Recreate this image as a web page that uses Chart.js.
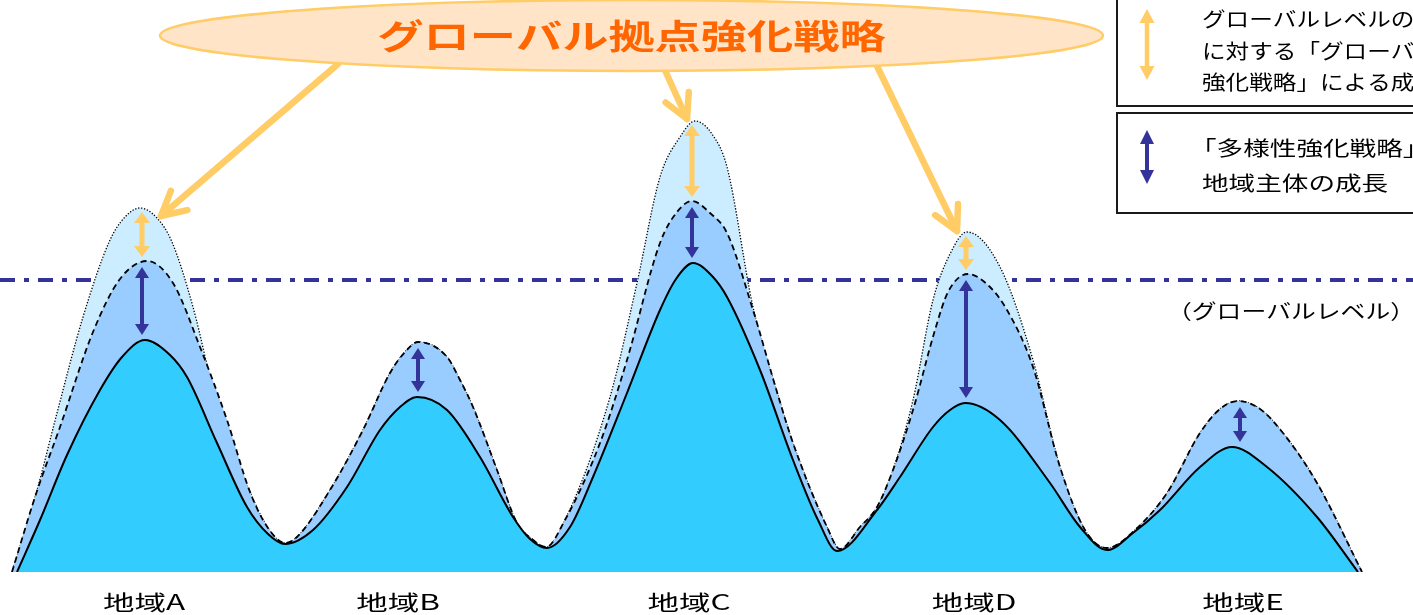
<!DOCTYPE html>
<html lang="ja">
<head>
<meta charset="utf-8">
<title>グローバル拠点強化戦略</title>
<script src="https://cdn.jsdelivr.net/npm/chart.js@4/dist/chart.umd.min.js"></script>
<style>
  html, body { margin: 0; padding: 0; background: #ffffff; }
  #wrap { width: 1413px; height: 615px; position: relative; }
  canvas { display: block; }
</style>
</head>
<body>
<div id="wrap"><canvas id="chart" width="1413" height="615"></canvas></div>
<script>
// ---- data -------------------------------------------------------------
const regions = ['地域A', '地域B', '地域C', '地域D', '地域E'];
const regionPeakX = [142, 418, 692, 966, 1240];

// current strength of the regions (solid outline)
const currentX = [17, 40, 67, 100, 122, 145, 170, 187, 217, 247,
  268, 285, 313, 347, 380, 400, 417, 447, 480, 513,
  530, 547, 570, 593, 627, 660, 676, 693, 713, 727,
  760, 793, 818, 837, 877, 900, 933, 950, 965, 1000,
  1050, 1080, 1107, 1133, 1160, 1200, 1232, 1267, 1317, 1358];
const currentH = [0, 52, 117, 182, 215, 232, 217, 195, 129, 65,
  38, 28, 42, 85, 142, 165, 175, 162, 115, 55,
  33, 24, 45, 95, 179, 262, 293, 309, 295, 275,
  202, 112, 52, 21, 62, 95, 145, 162, 169, 152,
  89, 45, 22, 39, 62, 105, 125, 105, 55, 0];

// growth through the diversity strategy (dashed outline)
const diversityX = [12, 36, 60, 93, 120, 147, 173, 200, 227, 250,
  268, 285, 297, 330, 363, 390, 405, 418, 447, 460,
  473, 497, 517, 532, 546, 565, 600, 627, 660, 677,
  692, 710, 727, 753, 777, 793, 827, 840, 860, 877,
  893, 913, 935, 948, 968, 990, 1007, 1033, 1060, 1085,
  1107, 1135, 1167, 1200, 1220, 1238, 1260, 1283, 1317, 1362];
const diversityH = [0, 78, 145, 240, 293, 311, 289, 225, 152, 80,
  44, 29, 35, 82, 142, 199, 220, 230, 215, 192,
  165, 102, 49, 33, 25, 52, 129, 212, 329, 360,
  371, 359, 339, 262, 180, 129, 45, 23, 45, 65,
  102, 162, 242, 280, 298, 285, 262, 205, 105, 42,
  24, 42, 79, 139, 163, 171, 163, 139, 89, 0];

// growth through the global-hub strategy (dotted outline)
const globalX = [12, 36, 57, 83, 110, 125, 140, 157, 172, 193,
  220, 250, 268, 285, 297, 330, 363, 390, 405, 418,
  447, 460, 473, 497, 517, 532, 546, 565, 610, 637,
  660, 680, 695, 712, 727, 753, 777, 793, 827, 840,
  860, 877, 893, 913, 933, 950, 967, 1000, 1033, 1060,
  1085, 1107, 1135, 1167, 1200, 1220, 1238, 1260, 1283, 1317, 1362];
const globalH = [0, 78, 159, 255, 332, 355, 364, 354, 330, 265,
  155, 80, 44, 29, 35, 82, 142, 199, 220, 230,
  215, 192, 165, 102, 49, 33, 25, 52, 175, 289,
  395, 435, 451, 438, 405, 265, 180, 129, 45, 23,
  45, 65, 102, 172, 272, 318, 340, 305, 212, 105,
  42, 24, 42, 79, 139, 163, 171, 163, 139, 89, 0];

// global level reference
const globalLevel = 292;

// ---- helpers ----------------------------------------------------------
const toPoints = (xs, hs) => xs.map((x, i) => ({ x: x, y: hs[i] }));

function peakNear(xs, hs, x0) {
  let best = -1;
  for (let i = 0; i < xs.length; i++) {
    if (Math.abs(xs[i] - x0) <= 40 && (best < 0 || hs[i] > hs[best])) best = i;
  }
  return hs[best];
}

const CJK = "'Noto Sans CJK JP', 'Noto Sans', sans-serif";

function stretchedText(ctx, text, x, y, size, weight, color, sx, align) {
  ctx.save();
  ctx.font = weight + ' ' + size + 'px ' + CJK;
  ctx.fillStyle = color;
  ctx.textBaseline = 'middle';
  ctx.textAlign = align || 'left';
  ctx.translate(x, y);
  ctx.scale(sx, 1);
  ctx.fillText(text, 0, 0);
  ctx.restore();
}

function doubleArrow(ctx, x, yTop, yBot, color, shaftW, headL, headW) {
  ctx.save();
  ctx.strokeStyle = color;
  ctx.fillStyle = color;
  ctx.lineWidth = shaftW;
  ctx.beginPath();
  ctx.moveTo(x, yTop + headL - 1);
  ctx.lineTo(x, yBot - headL + 1);
  ctx.stroke();
  ctx.beginPath();
  ctx.moveTo(x, yTop);
  ctx.lineTo(x - headW, yTop + headL);
  ctx.lineTo(x + headW, yTop + headL);
  ctx.closePath();
  ctx.fill();
  ctx.beginPath();
  ctx.moveTo(x, yBot);
  ctx.lineTo(x - headW, yBot - headL);
  ctx.lineTo(x + headW, yBot - headL);
  ctx.closePath();
  ctx.fill();
  ctx.restore();
}

function pointer(ctx, x0, y0, x1, y1) {
  const ang = Math.atan2(y0 - y1, x0 - x1);
  const spread = 28 * Math.PI / 180;
  const len = 27;
  ctx.save();
  ctx.strokeStyle = '#FFCC66';
  ctx.lineWidth = 6.5;
  ctx.lineCap = 'round';
  ctx.lineJoin = 'round';
  ctx.beginPath();
  ctx.moveTo(x0, y0);
  ctx.lineTo(x1, y1);
  ctx.stroke();
  ctx.beginPath();
  ctx.moveTo(x1 + len * Math.cos(ang - spread), y1 + len * Math.sin(ang - spread));
  ctx.lineTo(x1, y1);
  ctx.lineTo(x1 + len * Math.cos(ang + spread), y1 + len * Math.sin(ang + spread));
  ctx.stroke();
  ctx.restore();
}

// ---- annotations drawn on top of the mountains ----------------------------
const layout = {
  labelX: [144, 398, 689, 974, 1243],
  labelY: 602,
  ellipse: { cx: 631.5, cy: 35.5, rx: 471.5, ry: 35.5 },
  pointers: [
    [338, 64, 161, 216],
    [664, 68, 687, 119],
    [876, 64, 957, 231]
  ]
};

const annotationPlugin = {
  id: 'strategyAnnotations',
  afterDatasetsDraw(chart) {
    const ctx = chart.ctx;
    const xs = chart.scales.x, ys = chart.scales.y;

    // growth arrows at each region's peak
    regions.forEach((r, i) => {
      const px = xs.getPixelForValue(regionPeakX[i]);
      const cur = peakNear(currentX, currentH, regionPeakX[i]);
      const div = peakNear(diversityX, diversityH, regionPeakX[i]);
      const glo = peakNear(globalX, globalH, regionPeakX[i]);
      if (glo > div + 5) {
        doubleArrow(ctx, px, ys.getPixelForValue(glo) + 4, ys.getPixelForValue(div) - 4, '#FFCC66', 5, 11, 8);
      }
      doubleArrow(ctx, px, ys.getPixelForValue(div) + 6, ys.getPixelForValue(cur) - 5, '#333399', 4, 11, 7);
    });

    // pointers from the strategy bubble
    layout.pointers.forEach(p => pointer(ctx, p[0], p[1], p[2], p[3]));

    // strategy bubble
    const e = layout.ellipse;
    ctx.save();
    ctx.beginPath();
    ctx.ellipse(e.cx, e.cy, e.rx, e.ry, 0, 0, Math.PI * 2);
    ctx.fillStyle = '#FFE4C8';
    ctx.fill();
    ctx.lineWidth = 2.5;
    ctx.strokeStyle = '#FFCC66';
    ctx.stroke();
    ctx.restore();
    stretchedText(ctx, 'グローバル拠点強化戦略', e.cx, e.cy + 1, 34, 'bold', '#FF6600', 1.36, 'center');

    // legend boxes
    ctx.save();
    ctx.fillStyle = '#ffffff';
    ctx.strokeStyle = '#1a1a1a';
    ctx.lineWidth = 2;
    ctx.fillRect(1117, -5, 310, 111);
    ctx.strokeRect(1117, -5, 310, 111);
    ctx.fillRect(1117, 113, 310, 100);
    ctx.strokeRect(1117, 113, 310, 100);
    ctx.restore();
    doubleArrow(ctx, 1147, 9, 80, '#FFCC66', 4.5, 14, 7.5);
    doubleArrow(ctx, 1147, 130, 184, '#333399', 4, 14, 7);
    stretchedText(ctx, 'グローバルレベルの地域', 1202, 19, 20, 'normal', '#000', 1.18);
    stretchedText(ctx, 'に対する「グローバル拠点', 1202, 51, 20, 'normal', '#000', 1.18);
    stretchedText(ctx, '強化戦略」による成長', 1202, 82, 20, 'normal', '#000', 1.18);
    stretchedText(ctx, '「多様性強化戦略」による', 1190, 148, 20, 'normal', '#000', 1.33);
    stretchedText(ctx, '地域主体の成長', 1202, 183, 20, 'normal', '#000', 1.33);

    // global level caption
    stretchedText(ctx, '（グローバルレベル）', 1167, 311, 20, 'normal', '#000', 1.24);

    // region names
    regions.forEach((r, i) => {
      stretchedText(ctx, r, layout.labelX[i], layout.labelY, 21, 'normal', '#000', 1.5, 'center');
    });
  }
};

// ---- chart -------------------------------------------------------------
new Chart(document.getElementById('chart'), {
  type: 'line',
  data: {
    datasets: [
      {
        label: '現状',
        data: toPoints(currentX, currentH),
        borderColor: '#000000',
        borderWidth: 2,
        backgroundColor: '#33CCFF',
        fill: 'origin',
        order: 0
      },
      {
        label: '多様性強化戦略',
        data: toPoints(diversityX, diversityH),
        borderColor: '#000000',
        borderWidth: 1.8,
        borderDash: [6, 4],
        backgroundColor: '#99CCFF',
        fill: 'origin',
        order: 1
      },
      {
        label: 'グローバル拠点強化戦略',
        data: toPoints(globalX, globalH),
        borderColor: '#000000',
        borderWidth: 1.3,
        borderDash: [1.3, 1.7],
        backgroundColor: '#CCECFF',
        fill: 'origin',
        order: 2
      },
      {
        label: 'グローバルレベル',
        data: [{ x: 0, y: globalLevel }, { x: 1413, y: globalLevel }],
        borderColor: '#333399',
        borderWidth: 4,
        borderDash: [15, 9, 5, 9],
        fill: false,
        cubicInterpolationMode: 'default',
        tension: 0,
        order: 3
      }
    ]
  },
  options: {
    responsive: false,
    animation: false,
    layout: { padding: { left: 0, right: 0, top: 0, bottom: 43 } },
    elements: {
      point: { radius: 0, hoverRadius: 0 },
      line: { cubicInterpolationMode: 'monotone' }
    },
    scales: {
      x: { type: 'linear', min: 0, max: 1413, display: false },
      y: { min: 0, max: 572, display: false }
    },
    plugins: {
      legend: { display: false },
      tooltip: { enabled: false }
    }
  },
  plugins: [annotationPlugin]
});
</script>
</body>
</html>
